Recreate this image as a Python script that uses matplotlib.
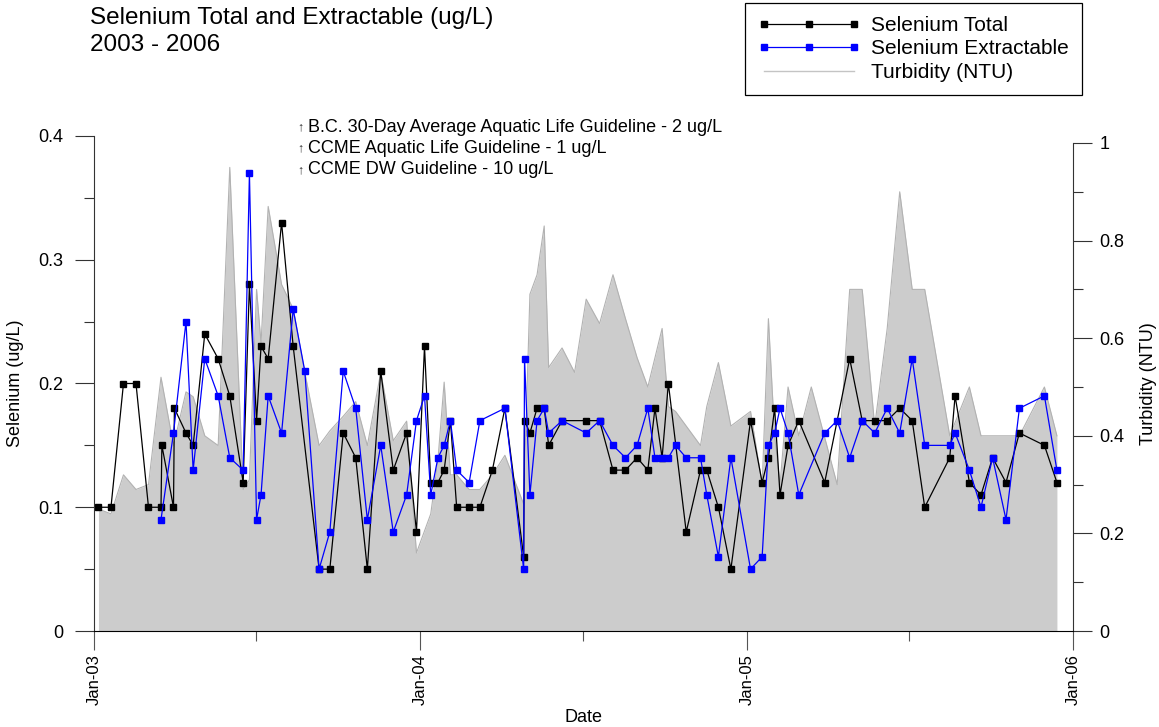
import pandas as pd
import matplotlib
matplotlib.use('Agg')
import matplotlib.pyplot as plt
import matplotlib.dates as mdates
from matplotlib.ticker import MultipleLocator, FuncFormatter

plt.rcParams['font.family'] = ['Liberation Sans', 'DejaVu Sans']

# ---- data ----
total_dates = ['2003-01-06', '2003-01-20', '2003-02-03', '2003-02-17', '2003-03-03', '2003-03-17',
               '2003-03-18', '2003-03-31', '2003-04-01', '2003-04-14', '2003-04-22', '2003-05-05',
               '2003-05-20', '2003-06-02', '2003-06-17', '2003-06-24', '2003-07-02', '2003-07-07',
               '2003-07-15', '2003-07-30', '2003-08-12', '2003-09-10', '2003-09-22', '2003-10-07',
               '2003-10-21', '2003-11-03', '2003-11-18', '2003-12-02', '2003-12-17', '2003-12-28',
               '2004-01-06', '2004-01-13', '2004-01-21', '2004-01-28', '2004-02-04', '2004-02-11',
               '2004-02-25', '2004-03-08', '2004-03-22', '2004-04-05', '2004-04-26', '2004-04-27',
               '2004-05-03', '2004-05-11', '2004-05-19', '2004-05-24', '2004-06-08', '2004-07-05',
               '2004-07-20', '2004-08-04', '2004-08-18', '2004-08-31', '2004-09-12', '2004-09-20',
               '2004-09-28', '2004-10-05', '2004-10-25', '2004-11-10', '2004-11-17', '2004-11-30',
               '2004-12-14', '2005-01-05', '2005-01-18', '2005-01-25', '2005-02-01', '2005-02-07',
               '2005-02-16', '2005-02-28', '2005-03-29', '2005-04-26', '2005-05-10', '2005-05-24',
               '2005-06-07', '2005-06-21', '2005-07-05', '2005-07-19', '2005-08-16', '2005-08-22',
               '2005-09-07', '2005-09-20', '2005-10-03', '2005-10-18', '2005-11-02', '2005-11-30',
               '2005-12-14']
total_vals = [0.10, 0.10, 0.20, 0.20, 0.10, 0.10,
              0.15, 0.10, 0.18, 0.16, 0.15, 0.24,
              0.22, 0.19, 0.12, 0.28, 0.17, 0.23,
              0.22, 0.33, 0.23, 0.05, 0.05, 0.16,
              0.14, 0.05, 0.21, 0.13, 0.16, 0.08,
              0.23, 0.12, 0.12, 0.13, 0.17, 0.10,
              0.10, 0.10, 0.13, 0.18, 0.06, 0.17,
              0.16, 0.18, 0.18, 0.15, 0.17, 0.17,
              0.17, 0.13, 0.13, 0.14, 0.13, 0.18,
              0.14, 0.20, 0.08, 0.13, 0.13, 0.10,
              0.05, 0.17, 0.12, 0.14, 0.18, 0.11,
              0.15, 0.17, 0.12, 0.22, 0.17, 0.17,
              0.17, 0.18, 0.17, 0.10, 0.14, 0.19,
              0.12, 0.11, 0.14, 0.12, 0.16, 0.15,
              0.12]

ext_dates = ['2003-03-17', '2003-03-31', '2003-04-14', '2003-04-22', '2003-05-05', '2003-05-20',
             '2003-06-02', '2003-06-17', '2003-06-24', '2003-07-02', '2003-07-07', '2003-07-15',
             '2003-07-30', '2003-08-12', '2003-08-25', '2003-09-10', '2003-09-22', '2003-10-07',
             '2003-10-21', '2003-11-03', '2003-11-18', '2003-12-02', '2003-12-17', '2003-12-28',
             '2004-01-06', '2004-01-13', '2004-01-21', '2004-01-28', '2004-02-04', '2004-02-11',
             '2004-02-25', '2004-03-08', '2004-04-05', '2004-04-26', '2004-04-27', '2004-05-03',
             '2004-05-11', '2004-05-19', '2004-05-24', '2004-06-08', '2004-07-05', '2004-07-20',
             '2004-08-04', '2004-08-18', '2004-08-31', '2004-09-12', '2004-09-20', '2004-09-28',
             '2004-10-05', '2004-10-13', '2004-10-25', '2004-11-10', '2004-11-17', '2004-11-30',
             '2004-12-14', '2005-01-05', '2005-01-18', '2005-01-25', '2005-02-01', '2005-02-07',
             '2005-02-16', '2005-02-28', '2005-03-29', '2005-04-12', '2005-04-26', '2005-05-10',
             '2005-05-24', '2005-06-07', '2005-06-21', '2005-07-05', '2005-07-19', '2005-08-16',
             '2005-08-22', '2005-09-07', '2005-09-20', '2005-10-03', '2005-10-18', '2005-11-02',
             '2005-11-30', '2005-12-14']
ext_vals = [0.09, 0.16, 0.25, 0.13, 0.22, 0.19,
            0.14, 0.13, 0.37, 0.09, 0.11, 0.19,
            0.16, 0.26, 0.21, 0.05, 0.08, 0.21,
            0.18, 0.09, 0.15, 0.08, 0.11, 0.17,
            0.19, 0.11, 0.14, 0.15, 0.17, 0.13,
            0.12, 0.17, 0.18, 0.05, 0.22, 0.11,
            0.17, 0.18, 0.16, 0.17, 0.16, 0.17,
            0.15, 0.14, 0.15, 0.18, 0.14, 0.14,
            0.14, 0.15, 0.14, 0.14, 0.11, 0.06,
            0.14, 0.05, 0.06, 0.15, 0.16, 0.18,
            0.16, 0.11, 0.16, 0.17, 0.14, 0.17,
            0.16, 0.18, 0.16, 0.22, 0.15, 0.15,
            0.16, 0.13, 0.10, 0.14, 0.09, 0.18,
            0.19, 0.13]

turb_dates = ['2003-01-06', '2003-01-20', '2003-02-03', '2003-02-17', '2003-03-03', '2003-03-17',
              '2003-03-31', '2003-04-14', '2003-04-22', '2003-05-05', '2003-05-20', '2003-06-02',
              '2003-06-17', '2003-06-24', '2003-07-02', '2003-07-07', '2003-07-15', '2003-07-30',
              '2003-08-12', '2003-08-25', '2003-09-10', '2003-09-22', '2003-10-07', '2003-10-21',
              '2003-11-03', '2003-11-18', '2003-12-02', '2003-12-17', '2003-12-28', '2004-01-13',
              '2004-01-21', '2004-01-28', '2004-02-04', '2004-02-11', '2004-02-25', '2004-03-08',
              '2004-03-22', '2004-04-05', '2004-04-26', '2004-05-03', '2004-05-11', '2004-05-19',
              '2004-05-24', '2004-06-08', '2004-06-22', '2004-07-05', '2004-07-20', '2004-08-04',
              '2004-08-18', '2004-08-31', '2004-09-12', '2004-09-28', '2004-10-05', '2004-10-13',
              '2004-10-25', '2004-11-10', '2004-11-17', '2004-11-30', '2004-12-14', '2005-01-05',
              '2005-01-18', '2005-01-25', '2005-02-01', '2005-02-07', '2005-02-16', '2005-02-28',
              '2005-03-14', '2005-04-12', '2005-04-26', '2005-05-10', '2005-05-24', '2005-06-07',
              '2005-06-21', '2005-07-05', '2005-07-19', '2005-08-16', '2005-09-07', '2005-09-20',
              '2005-11-02', '2005-11-30', '2005-12-14']
turb_vals = [0.25, 0.24, 0.32, 0.29, 0.30, 0.52,
             0.38, 0.49, 0.48, 0.40, 0.38, 0.95,
             0.29, 0.31, 0.70, 0.59, 0.87, 0.71,
             0.66, 0.53, 0.38, 0.41, 0.44, 0.47,
             0.38, 0.53, 0.39, 0.43, 0.16, 0.24,
             0.35, 0.51, 0.32, 0.32, 0.29, 0.29,
             0.32, 0.36, 0.26, 0.69, 0.73, 0.83,
             0.54, 0.58, 0.53, 0.68, 0.63, 0.73,
             0.64, 0.56, 0.50, 0.62, 0.46, 0.45,
             0.42, 0.38, 0.46, 0.55, 0.42, 0.45,
             0.30, 0.64, 0.40, 0.30, 0.50, 0.40,
             0.50, 0.30, 0.70, 0.70, 0.42, 0.62,
             0.90, 0.70, 0.70, 0.40, 0.50, 0.40,
             0.40, 0.50, 0.40]

guidelines = ['B.C. 30-Day Average Aquatic Life Guideline - 2 ug/L',
              'CCME Aquatic Life Guideline - 1 ug/L',
              'CCME DW Guideline - 10 ug/L']

W, H = 1159, 727
fig = plt.figure(figsize=(W / 100, H / 100), dpi=100)
ax = fig.add_axes([94 / W, 1 - 631 / H, (1073 - 94) / W, (631 - 136) / H])
ax2 = ax.twinx()
ax.set_zorder(ax2.get_zorder() + 1)
ax.patch.set_visible(False)

# turbidity area on the right axis
td = pd.to_datetime(turb_dates)
ax2.fill_between(td, turb_vals, 0, color='#cccccc', lw=0)
ax2.plot(td, turb_vals, color='#b2b2b2', lw=0.8)
turb_line, = ax2.plot([], [], color='#c4c4c4', lw=1.0)

# selenium on the left axis
tot_line, = ax.plot(pd.to_datetime(total_dates), total_vals, color='black', lw=0.9,
                    marker='s', ms=5)
ext_line, = ax.plot(pd.to_datetime(ext_dates), ext_vals, color='#0000ff', lw=0.9,
                    marker='s', ms=5)

# axes ranges
ax.set_xlim(pd.Timestamp('2003-01-01'), pd.Timestamp('2006-01-01'))
ax.set_ylim(0, 0.4)
ax2.set_ylim(0, 495 / 488)

for a in (ax, ax2):
    a.spines['top'].set_visible(False)
ax.spines['right'].set_visible(False)
ax2.spines['left'].set_visible(False)
ax2.spines['bottom'].set_visible(False)
ax2.spines['right'].set_bounds(0, 1)
ax.spines['left'].set_color('#333333')
ax2.spines['right'].set_color('#333333')

fmt = FuncFormatter(lambda v, p: '%g' % round(v, 2))
ax.yaxis.set_major_locator(MultipleLocator(0.1))
ax.yaxis.set_minor_locator(MultipleLocator(0.05))
ax.yaxis.set_major_formatter(fmt)
ax2.yaxis.set_major_locator(MultipleLocator(0.2))
ax2.yaxis.set_minor_locator(MultipleLocator(0.1))
ax2.yaxis.set_major_formatter(fmt)

ax.xaxis.set_major_locator(mdates.YearLocator())
ax.xaxis.set_minor_locator(mdates.MonthLocator(bymonth=7))
ax.xaxis.set_major_formatter(mdates.DateFormatter('%b-%y'))

ax.tick_params(axis='y', which='major', length=14, width=0.8, color='#333333', pad=8, labelsize=13)
ax.tick_params(axis='y', which='minor', length=7, width=0.8, color='#333333')
ax2.tick_params(axis='y', which='major', length=14, width=0.8, color='#333333', pad=5, labelsize=13)
ax2.tick_params(axis='y', which='minor', length=7, width=0.8, color='#333333')
ax.tick_params(axis='x', which='major', length=14, width=0.8, color='#555555', pad=3, labelsize=12,
               labelrotation=90)
ax.tick_params(axis='x', which='minor', length=7, width=0.8, color='#555555')

ax.set_ylabel('Selenium (ug/L)', fontsize=13)
ax.yaxis.set_label_coords((24 - 94) / 979, 0.5)
ax2.set_ylabel('Turbidity (NTU)', fontsize=13)
ax2.yaxis.set_label_coords((1140 - 94) / 979, 0.5)
ax.set_xlabel('Date', fontsize=13)
ax.xaxis.set_label_coords(0.5, (631 - 709) / 495)

# title
fig.text(90 / W, 1 - 7 / H, 'Selenium Total and Extractable (ug/L)\n2003 - 2006',
         va='top', ha='left', fontsize=17.5, linespacing=1.32)

# guideline notes
for i, g in enumerate(guidelines):
    yc = 1 - (127 + i * 21.5) / H
    fig.text(297 / W, yc, '\u2191', fontsize=9, va='center', ha='left', color='#333333')
    fig.text(308 / W, yc, g, fontsize=13, va='center', ha='left')

leg = fig.legend([tot_line, ext_line, turb_line],
                 ['Selenium Total', 'Selenium Extractable', 'Turbidity (NTU)'],
                 loc='upper right', bbox_to_anchor=(1082 / W, 1 - 3 / H), borderaxespad=0,
                 fontsize=15, fancybox=False, framealpha=1, edgecolor='black',
                 handlelength=4.9, numpoints=3, borderpad=0.62, labelspacing=0.22,
                 handletextpad=0.55)
leg.get_frame().set_linewidth(0.9)

fig.savefig('out.png', dpi=100)
